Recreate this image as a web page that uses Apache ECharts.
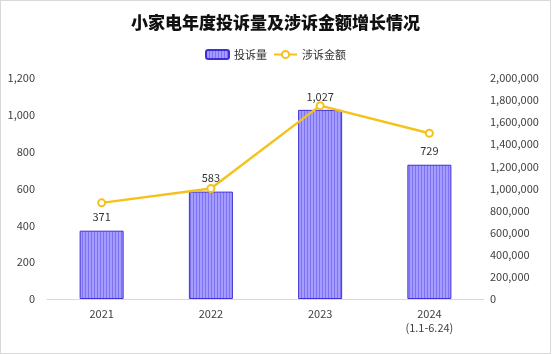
<!DOCTYPE html>
<html>
<head>
<meta charset="utf-8">
<script src="https://cdn.jsdelivr.net/npm/echarts@6/dist/echarts.min.js"></script>
<style>
  html, body { margin: 0; padding: 0; background: #fff; }
  .frame { width: 549px; height: 352px; border: 1px solid #d9d9d9; }
  #chart { width: 549px; height: 352px; }
</style>
</head>
<body>
<div class="frame"><div id="chart"></div></div>
<script>
const categories = ['2021', '2022', '2023', '2024\n(1.1-6.24)']
const complaintCounts = [371, 583, 1027, 729]
const complaintAmounts = [870000, 1000000, 1750000, 1500000]
const leftTicks = { min: 0, max: 1200, interval: 200 }
const rightTicks = { min: 0, max: 2000000, interval: 200000 }

// vertical stripe fill for the bars
function stripePattern() {
  const c = document.createElement('canvas')
  c.width = 3
  c.height = 4
  const ctx = c.getContext('2d')
  ctx.fillStyle = '#a49dff'
  ctx.fillRect(0, 0, 3, 4)
  ctx.fillStyle = '#7f72f2'
  ctx.fillRect(0, 0, 1, 4)
  return c
}

const fmt = v => v.toLocaleString('en-US')
const font = '"Noto Sans CJK SC", "Noto Sans", sans-serif'

const chart = echarts.init(document.getElementById('chart'))
chart.setOption({
  textStyle: { fontFamily: font },
  title: {
    text: '小家电年度投诉量及涉诉金额增长情况',
    left: 'center',
    top: 8,
    textStyle: { fontSize: 17, fontWeight: 900, color: '#111', fontFamily: font }
  },
  legend: {
    top: 43,
    left: 'center',
    itemWidth: 23,
    itemHeight: 9,
    itemGap: 6,
    textStyle: { fontSize: 11, color: '#333', fontFamily: font },
    data: ['投诉量', '涉诉金额']
  },
  grid: { left: 46, right: 66, top: 77, bottom: 54 },
  xAxis: {
    type: 'category',
    data: categories,
    axisLine: { lineStyle: { color: '#d9d9d9' } },
    axisTick: { show: false },
    axisLabel: { color: '#404040', fontSize: 11, lineHeight: 14, margin: 8 }
  },
  yAxis: [
    {
      type: 'value',
      min: leftTicks.min,
      max: leftTicks.max,
      interval: leftTicks.interval,
      splitLine: { show: false },
      axisLabel: { color: '#404040', fontSize: 11, formatter: fmt, margin: 12 }
    },
    {
      type: 'value',
      min: rightTicks.min,
      max: rightTicks.max,
      interval: rightTicks.interval,
      splitLine: { show: false },
      axisLabel: { color: '#404040', fontSize: 11, formatter: fmt, margin: 6 }
    }
  ],
  series: [
    {
      name: '投诉量',
      type: 'bar',
      data: complaintCounts,
      barWidth: 44,
      itemStyle: {
        color: { image: stripePattern(), repeat: 'repeat' },
        borderColor: '#3f2fd8',
        borderWidth: 1
      },
      label: {
        show: true,
        position: 'top',
        distance: 8,
        color: '#333',
        fontSize: 11,
        formatter: p => fmt(p.value)
      }
    },
    {
      name: '涉诉金额',
      type: 'line',
      yAxisIndex: 1,
      data: complaintAmounts,
      symbol: 'emptyCircle',
      symbolSize: 7,
      lineStyle: { color: '#f5c21b', width: 2.5 },
      itemStyle: { color: '#f5c21b', borderWidth: 2 }
    }
  ]
})
</script>
</body>
</html>
